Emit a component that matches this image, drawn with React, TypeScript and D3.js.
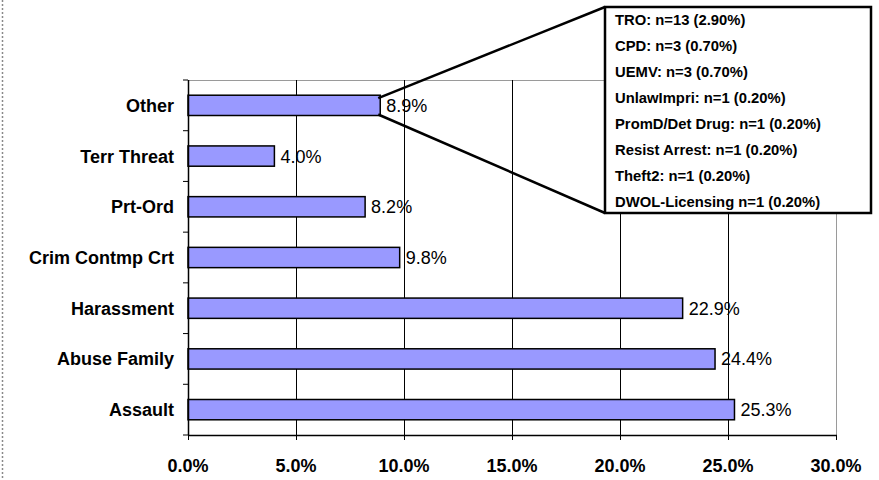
import React from "react";
import * as d3 from "d3";

// Offence categories, listed top to bottom, with their share of cases (%)
const categories = [
  "Other",
  "Terr Threat",
  "Prt-Ord",
  "Crim Contmp Crt",
  "Harassment",
  "Abuse Family",
  "Assault",
];
const shares = [8.9, 4.0, 8.2, 9.8, 22.9, 24.4, 25.3];

// Breakdown of the "Other" group shown in the callout box
const otherBreakdown = [
  "TRO: n=13 (2.90%)",
  "CPD: n=3 (0.70%)",
  "UEMV: n=3 (0.70%)",
  "UnlawImpri: n=1 (0.20%)",
  "PromD/Det Drug: n=1 (0.20%)",
  "Resist Arrest: n=1 (0.20%)",
  "Theft2: n=1 (0.20%)",
  "DWOL-Licensing n=1 (0.20%)",
];

const xTicks = [0, 5, 10, 15, 20, 25, 30];

const W = 879;
const H = 480;
const plot = { left: 188, right: 836, top: 80, bottom: 435 };
const FONT = "'Liberation Sans', Arial, Helvetica, sans-serif";

export default function App() {
  const x = d3.scaleLinear().domain([0, 30]).range([plot.left, plot.right]);
  const y = d3
    .scaleBand<string>()
    .domain(categories)
    .range([plot.top, plot.bottom])
    .paddingInner(0.6)
    .paddingOuter(0.3);
  const step = y.step();
  const boundaries = d3.range(categories.length + 1).map((i) => plot.top + i * step);

  const fmt = (v: number) => `${v.toFixed(1)}%`;

  // callout box
  const box = { x: 605, y: 7, w: 266, h: 206 };
  const otherIdx = categories.indexOf("Other");
  const otherTop = y(categories[otherIdx])!;
  const otherEnd = x(shares[otherIdx]);

  return (
    <svg
      width={W}
      height={H}
      style={{ position: "absolute", left: 0, top: 0, background: "#fff" }}
      fontFamily={FONT}
    >
      <rect x={0} y={0} width={W} height={H} fill="#fff" />
      {/* dotted frame edge on the left */}
      <line x1={2.5} y1={0} x2={2.5} y2={H} stroke="#8a8a8a" strokeWidth={1.5} strokeDasharray="2,2" />

      {/* plot area border */}
      <line x1={plot.left} y1={plot.top + 0.5} x2={plot.right} y2={plot.top + 0.5} stroke="#9a9a9a" strokeWidth={1} />
      <line x1={plot.right + 0.5} y1={plot.top} x2={plot.right + 0.5} y2={plot.bottom} stroke="#9a9a9a" strokeWidth={1} />

      {/* vertical gridlines */}
      {xTicks
        .filter((t) => t > 0 && t < 30)
        .map((t) => (
          <line key={`g${t}`} x1={x(t) + 0.5} y1={plot.top} x2={x(t) + 0.5} y2={plot.bottom} stroke="#000" strokeWidth={1} />
        ))}

      {/* bars */}
      {categories.map((c, i) => (
        <rect
          key={c}
          x={x(0)}
          y={y(c)!}
          width={x(shares[i]) - x(0)}
          height={y.bandwidth()}
          fill="#9999FF"
          stroke="#000"
          strokeWidth={1.5}
        />
      ))}

      {/* value labels */}
      {categories.map((c, i) => (
        <text
          key={`v${c}`}
          x={x(shares[i]) + 6}
          y={y(c)! + y.bandwidth() / 2}
          dy="0.36em"
          fontSize={18}
          fill="#000"
        >
          {fmt(shares[i])}
        </text>
      ))}

      {/* y axis */}
      <line x1={plot.left + 0.5} y1={plot.top} x2={plot.left + 0.5} y2={plot.bottom} stroke="#000" strokeWidth={1.5} />
      {boundaries.map((b, i) => (
        <line key={`yt${i}`} x1={plot.left - 5} y1={b} x2={plot.left} y2={b} stroke="#000" strokeWidth={1} />
      ))}
      {categories.map((c) => (
        <text
          key={`c${c}`}
          x={174}
          y={y(c)! + y.bandwidth() / 2}
          dy="0.36em"
          textAnchor="end"
          fontSize={18}
          fontWeight="bold"
          fill="#000"
        >
          {c}
        </text>
      ))}

      {/* x axis */}
      <line x1={plot.left} y1={plot.bottom + 0.5} x2={plot.right + 1} y2={plot.bottom + 0.5} stroke="#000" strokeWidth={1.5} />
      {xTicks.map((t) => (
        <g key={`xt${t}`}>
          <line x1={x(t) + 0.5} y1={plot.bottom} x2={x(t) + 0.5} y2={plot.bottom + 5} stroke="#000" strokeWidth={1} />
          <text x={x(t)} y={472} textAnchor="middle" fontSize={18} fontWeight="bold" fill="#000">
            {fmt(t)}
          </text>
        </g>
      ))}

      {/* callout connecting the "Other" bar to its breakdown */}
      <line x1={otherEnd - 2} y1={otherTop + 3} x2={box.x} y2={box.y} stroke="#000" strokeWidth={2.5} />
      <line x1={otherEnd - 2} y1={otherTop + y.bandwidth() - 1} x2={box.x} y2={box.y + box.h} stroke="#000" strokeWidth={2.5} />
      <rect x={box.x} y={box.y} width={box.w} height={box.h} fill="#fff" stroke="#000" strokeWidth={2.5} />
      {otherBreakdown.map((s, i) => (
        <text key={s} x={box.x + 10} y={box.y + 13 + i * 26} dy="0.36em" fontSize={14.8} fontWeight="bold" fill="#000">
          {s}
        </text>
      ))}
    </svg>
  );
}
